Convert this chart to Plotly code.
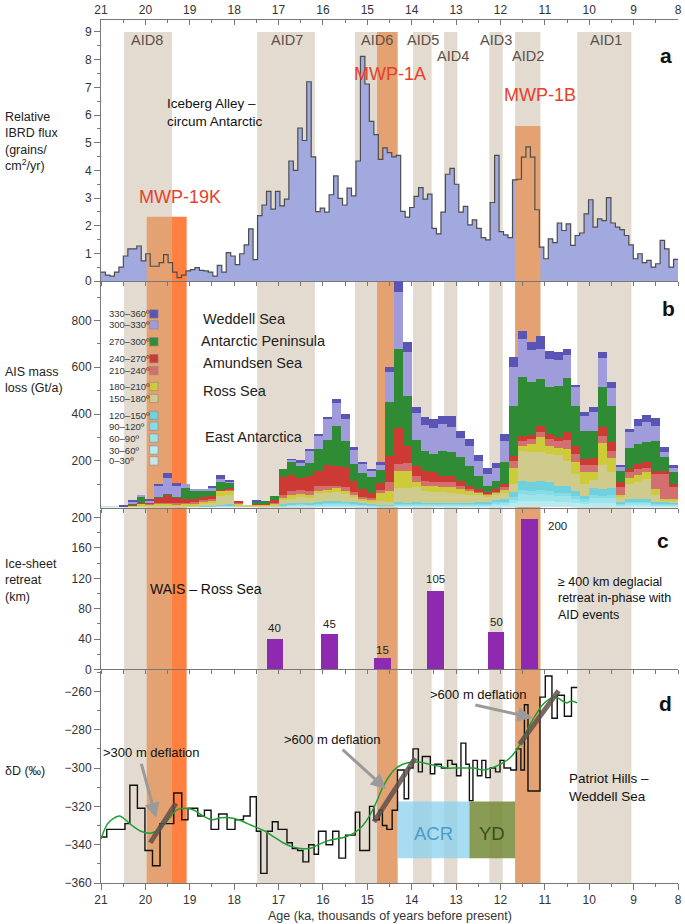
import numpy as np
import plotly.graph_objects as go

# ------------------------------------------------------------------ data
# (a) relative IBRD flux, 0.1-ka bins from 21 ka to 8 ka
ibrd_flux = [0.33, 0.22, 0.18, 0.33, 0.51, 0.91, 1.17, 1.17, 1.27, 0.73,
             0.99, 0.54, 0.54, 0.67, 0.96, 0.67, 0.33, 0.13, 0.22, 0.37,
             0.42, 0.49, 0.39, 0.37, 0.33, 0.18, 0.57, 0.33, 1.03, 0.91,
             0.60, 0.99, 1.31, 1.89, 0.78, 2.37, 2.75, 3.24, 2.60, 3.24,
             2.72, 2.96, 4.34, 4.00, 5.53, 5.08, 7.20, 4.49, 2.51, 2.64,
             2.49, 3.12, 3.80, 2.99, 2.75, 3.36, 3.08, 4.34, 8.12, 7.12,
             5.77, 5.29, 4.40, 4.81, 4.64, 4.49, 4.54, 2.52, 2.31, 2.66,
             3.06, 3.38, 2.96, 3.14, 1.91, 1.71, 2.49, 3.86, 4.07, 3.50,
             2.49, 2.70, 2.03, 2.21, 1.91, 1.57, 1.49, 2.84, 4.54, 1.79,
             1.67, 1.57, 3.66, 3.68, 4.48, 4.85, 4.48, 2.58, 1.23, 0.81,
             1.53, 1.39, 2.10, 1.83, 2.07, 1.29, 1.65, 1.74, 2.43, 2.94,
             1.95, 2.25, 2.19, 3.02, 2.10, 1.95, 1.86, 1.65, 1.31, 0.81,
             0.99, 0.67, 0.75, 0.51, 0.63, 1.47, 1.17, 0.51, 0.79]

# (b) AIS mass loss (Gt/a), 0.2-ka bins centred 20.9 ... 8.1 ka
mass_bin_age = [round(v, 1) for v in np.arange(20.9, 8.0, -0.2)]
mass_000_030 = [4, 5, 2, 2, 2, 2, 2, 2, 2, 2, 2, 2, 2, 3, 3, 2, 2, 2, 2, 2,
                3, 4, 4, 4, 5, 5, 6, 5, 5, 4, 4, 3, 3, 5, 5, 5, 5, 5, 5, 5,
                5, 5, 5, 5, 6, 6, 8, 12, 12, 12, 12, 10, 10, 8, 6, 8, 8, 8, 5, 6,
                6, 6, 5, 5, 5]
mass_030_060 = [0, 0, 0, 0, 0, 0, 0, 0, 0, 1, 1, 1, 1, 2, 2, 1, 1, 1, 1, 1,
                2, 3, 3, 3, 3, 4, 4, 4, 3, 3, 2, 2, 2, 4, 3, 4, 3, 3, 3, 3,
                3, 3, 4, 4, 5, 5, 10, 17, 16, 17, 16, 14, 14, 11, 8, 12, 12, 12, 4, 5,
                5, 5, 4, 4, 3]
mass_060_090 = [0, 0, 0, 0, 1, 1, 0, 1, 1, 1, 1, 1, 1, 2, 3, 1, 1, 1, 1, 1,
                3, 4, 5, 4, 5, 6, 7, 6, 5, 4, 4, 3, 2, 5, 5, 5, 5, 5, 5, 5,
                5, 5, 5, 5, 7, 8, 15, 28, 26, 28, 27, 23, 23, 17, 12, 20, 19, 20, 5, 8,
                8, 8, 5, 5, 5]
mass_090_120 = [0, 0, 0, 0, 0, 0, 0, 0, 0, 0, 0, 0, 1, 1, 2, 1, 0, 0, 0, 0,
                2, 3, 3, 3, 4, 4, 4, 4, 4, 3, 2, 2, 1, 4, 3, 4, 3, 3, 3, 3,
                3, 3, 4, 4, 5, 6, 10, 17, 16, 17, 17, 14, 14, 11, 8, 12, 12, 12, 4, 6,
                6, 6, 4, 4, 3]
mass_120_150 = [0, 0, 0, 0, 0, 0, 0, 0, 0, 0, 0, 1, 1, 2, 4, 1, 0, 0, 0, 1,
                4, 4, 6, 6, 6, 7, 8, 6, 6, 5, 4, 2, 2, 6, 5, 6, 5, 5, 5, 5,
                5, 5, 6, 6, 9, 11, 21, 40, 37, 40, 38, 32, 32, 24, 16, 29, 27, 29, 6, 11,
                11, 11, 6, 6, 5]
mass_150_180 = [0, 0, 0, 3, 6, 5, 5, 5, 5, 6, 6, 10, 12, 41, 38, 8, 3, 5, 4, 7,
                18, 20, 24, 21, 37, 36, 36, 33, 21, 10, 7, 15, 14, 57, 60, 62, 50, 43, 43, 39,
                36, 32, 29, 23, 22, 25, 36, 129, 129, 122, 119, 132, 105, 72, 50, 37, 104, 69, 19, 64,
                71, 85, 29, 6, 10]
mass_180_210 = [0, 0, 0, 4, 6, 6, 8, 8, 6, 7, 8, 10, 12, 20, 20, 4, 0, 4, 4, 6,
                8, 14, 11, 14, 10, 14, 17, 14, 10, 7, 10, 35, 47, 73, 76, 24, 22, 29, 22, 26,
                21, 18, 10, 8, 10, 17, 67, 21, 35, 64, 35, 29, 52, 50, 50, 35, 94, 60, 10, 24,
                32, 29, 25, 6, 5]
mass_210_240 = [0, 0, 0, 1, 2, 2, 4, 4, 4, 4, 4, 5, 5, 0, 3, 3, 0, 0, 0, 4,
                14, 17, 17, 14, 21, 14, 11, 14, 11, 7, 7, 12, 36, 31, 35, 23, 21, 17, 24, 21,
                15, 7, 5, 5, 4, 8, 33, 22, 22, 21, 29, 32, 39, 36, 32, 29, 31, 33, 33, 26,
                25, 17, 65, 107, 50]
mass_240_270 = [0, 0, 0, 2, 3, 3, 22, 36, 24, 17, 14, 14, 15, 5, 6, 3, 0, 2, 4, 8,
                76, 71, 54, 64, 64, 93, 86, 86, 50, 36, 21, 30, 114, 153, 72, 45, 40, 40, 26, 29,
                21, 15, 10, 8, 10, 14, 21, 21, 17, 29, 21, 14, 32, 35, 25, 28, 36, 35, 21, 14,
                21, 29, 14, 14, 14]
mass_270_300 = [0, 0, 0, 5, 28, 4, 2, 2, 4, 45, 36, 28, 22, 31, 22, 0, 0, 10, 10, 18,
                34, 57, 50, 57, 95, 107, 171, 114, 71, 68, 69, 55, 228, 340, 214, 112, 86, 80, 104, 100,
                101, 85, 58, 25, 36, 93, 211, 249, 225, 199, 200, 221, 231, 171, 118, 115, 171, 157, 50, 89,
                86, 82, 125, 57, 50]
mass_300_330 = [0, 0, 4, 8, 2, 8, 50, 68, 47, 17, 7, 7, 15, 15, 9, 0, 0, 2, 0, 0,
                0, 7, 17, 53, 57, 86, 97, 93, 60, 39, 24, 22, 132, 245, 185, 114, 114, 109, 117, 107,
                81, 86, 64, 50, 54, 93, 170, 164, 140, 129, 121, 111, 100, 79, 68, 82, 124, 75, 19, 68,
                79, 89, 68, 22, 17]
mass_330_360 = [0, 0, 2, 3, 0, 2, 7, 21, 10, 0, 0, 0, 3, 17, 6, 0, 0, 2, 0, 0,
                0, 3, 8, 7, 7, 11, 17, 21, 11, 7, 10, 12, 21, 43, 43, 27, 32, 40, 36, 47,
                29, 29, 24, 24, 20, 29, 40, 36, 34, 54, 33, 31, 24, 10, 14, 21, 28, 25, 6, 15,
                26, 29, 32, 21, 15]
sector_labels = ["0–30º", "30–60º", "60–90º", "90–120º", "120–150º", "150–180º",
                 "180–210º", "210–240º", "240–270º", "270–300º", "300–330º", "330–360º"]

# (c) ice-sheet retreat (km)
retreat_age = [17.08, 15.86, 14.66, 13.46, 12.10, 11.35]
retreat_km = [41, 47, 15, 104, 50, 199]
retreat_label = ["40", "45", "15", "105", "50", "200"]

# (d) Patriot Hills deltaD (permil): step record and smoothed curve
dD_age = [21.00, 20.87, 20.46, 20.35, 20.18, 20.01, 19.84, 19.67, 19.36, 19.18,
          19.04, 18.82, 18.67, 18.52, 18.35, 18.16, 17.98, 17.79, 17.64, 17.50,
          17.40, 17.26, 17.14, 17.01, 16.81, 16.69, 16.57, 16.45, 16.32, 16.20,
          16.10, 15.93, 15.78, 15.64, 15.49, 15.27, 15.17, 14.95, 14.85, 14.73,
          14.66, 14.56, 14.44, 14.32, 14.17, 14.07, 13.97, 13.85, 13.76, 13.58,
          13.48, 13.33, 13.19, 13.09, 12.99, 12.89, 12.78, 12.70, 12.62, 12.52,
          12.42, 12.33, 12.23, 12.11, 12.01, 11.92, 11.77, 11.64, 11.54, 11.46,
          11.38, 11.11, 10.99, 10.84, 10.72, 10.56, 10.40]
dD_end_age = 10.27
dD_value = [-336, -332, -329, -309, -321, -343, -351, -329, -313, -327,
            -321, -325, -322, -332, -324, -332, -327, -325, -315, -333,
            -355, -333, -328, -332, -339, -342, -343, -349, -340, -345,
            -333, -340, -333, -347, -335, -323, -343, -320, -327, -322,
            -330, -332, -322, -301, -316, -300, -290, -302, -294, -303,
            -298, -300, -296, -298, -304, -287, -298, -317, -296, -304,
            -296, -305, -300, -302, -296, -300, -301, -290, -301, -267,
            -312, -263, -252, -274, -262, -273, -258]
dD_smooth_age = [21.0, 20.85, 20.7, 20.58, 20.45, 20.3, 20.1, 19.9, 19.75, 19.6,
                 19.45, 19.3, 19.1, 18.9, 18.7, 18.5, 18.3, 18.1, 17.9, 17.7,
                 17.5, 17.3, 17.1, 16.9, 16.7, 16.5, 16.3, 16.1, 15.9, 15.7,
                 15.5, 15.3, 15.1, 14.95, 14.8, 14.65, 14.5, 14.35, 14.2, 14.0,
                 13.8, 13.6, 13.4, 13.2, 13.0, 12.8, 12.6, 12.4, 12.2, 12.0,
                 11.8, 11.65, 11.5, 11.35, 11.2, 11.05, 10.9, 10.75, 10.6, 10.5,
                 10.4, 10.27]
dD_smooth = [-337, -329, -326, -325, -327, -330, -333, -334, -333, -330,
             -326, -322, -321, -322, -325, -327, -326, -326, -327, -329,
             -331, -333, -336, -339, -341, -342, -342, -340, -338, -337,
             -336, -334, -330, -325, -318, -310, -304, -300, -298, -297,
             -297, -298, -299, -300, -300, -300, -300, -301, -300, -298,
             -295, -291, -285, -278, -272, -267, -264, -263, -265, -266,
             -265, -266]

# event bands (ka)
aid_names = ["AID8", "AID7", "AID6", "AID5", "AID4", "AID3", "AID2", "AID1"]
aid_start = [20.48, 17.48, 15.28, 13.97, 13.27, 12.25, 11.67, 10.27]
aid_end = [19.40, 16.18, 14.31, 13.55, 12.97, 11.95, 11.10, 9.05]
aid_label_age = [19.96, 16.82, 14.78, 13.75, 13.07, 12.09, 11.38, 9.63]
mwp_names = ["MWP-19K", "MWP-1A", "MWP-1B"]
mwp_start = [19.97, 14.78, 11.67]
mwp_end = [19.40, 14.32, 11.10]
mwp_top_flux = [2.33, 9.0, 5.6]
mwp19k_peak = [19.40, 19.07]

# ------------------------------------------------------------------ styling / layout helpers
W, H = 685, 924
PT, PB, PL, PR = 14, 883, 101, 682
FONT = "Liberation Sans, Arial, sans-serif"
NARROW = "Liberation Sans Narrow, Liberation Sans, Arial, sans-serif"


def yp(p):
    return (PB - p) / (PB - PT)


def xp(p):
    return (p - PL) / (PR - PL)


BEIGE = "#E3DBD0"
SALMON = "#E4A171"
ORANGE = "#FF8040"
HIST = "#A1A9DF"
AXC = "#777777"
TXT = "#333333"
colors = ["#CBE4E4", "#B3ECF2", "#9DE3EA", "#86DCE6", "#6FD1DD", "#CFCB8C",
          "#CDCB3A", "#D3706F", "#CC3A33", "#2F8C35", "#A09CDC", "#5A55B5"]
layers = [mass_000_030, mass_030_060, mass_060_090, mass_090_120, mass_120_150,
          mass_150_180, mass_180_210, mass_210_240, mass_240_270, mass_270_300,
          mass_300_330, mass_330_360]

fig = go.Figure()

# ---- panel a
edges = list(np.linspace(21, 8, len(ibrd_flux) + 1))
ya = ibrd_flux + [ibrd_flux[-1]]
fig.add_trace(go.Scatter(x=edges, y=ya, mode="lines", line=dict(width=0, shape="hv"),
                         fill="tozeroy", fillcolor=HIST, xaxis="x", yaxis="y",
                         hoverinfo="skip"))
boxes = [(mwp_start[0], mwp_end[0], mwp_top_flux[0], SALMON),
         (mwp19k_peak[0], mwp19k_peak[1], mwp_top_flux[0], ORANGE),
         (mwp_start[2], mwp_end[2], mwp_top_flux[2], SALMON)]
for s, e, t, c in boxes:
    fig.add_trace(go.Scatter(x=[s, s, e, e, s], y=[0, t, t, 0, 0], mode="lines",
                             fill="toself", fillcolor=c, line=dict(width=0),
                             xaxis="x", yaxis="y", hoverinfo="skip"))
fig.add_trace(go.Scatter(x=edges, y=ya, mode="lines",
                         line=dict(width=1.2, shape="hv", color="#4D4D4D"),
                         xaxis="x", yaxis="y", hoverinfo="skip"))
fig.add_trace(go.Scatter(x=[21], y=[0], mode="markers", marker=dict(opacity=0),
                         xaxis="x5", yaxis="y", hoverinfo="skip"))

# ---- panel b
for vals, col, lab in zip(layers, colors, sector_labels):
    fig.add_trace(go.Bar(x=mass_bin_age, y=vals, width=0.2, marker=dict(color=col, line=dict(width=0)),
                         name=lab, xaxis="x2", yaxis="y2"))

# ---- panel c
fig.add_trace(go.Bar(x=retreat_age, y=retreat_km, width=0.38,
                     marker=dict(color="#8E2AB0", line=dict(width=0)),
                     xaxis="x3", yaxis="y3"))

# ---- panel d
fig.add_trace(go.Scatter(x=dD_age + [dD_end_age], y=dD_value + [dD_value[-1]], mode="lines",
                         line=dict(color="#111111", width=1.4, shape="hv"),
                         xaxis="x4", yaxis="y4"))
fig.add_trace(go.Scatter(x=dD_smooth_age, y=dD_smooth, mode="lines",
                         line=dict(color="#1FA035", width=1.5, shape="spline", smoothing=1.0),
                         xaxis="x4", yaxis="y4"))

# ------------------------------------------------------------------ shapes
shapes = []
for s, e in zip(aid_start, aid_end):
    shapes.append(dict(type="rect", xref="x", yref="paper", x0=s, x1=e, y0=0, y1=yp(26),
                       fillcolor=BEIGE, line=dict(width=0), layer="below"))
shapes.append(dict(type="rect", xref="x", yref="paper", x0=mwp_start[1], x1=mwp_end[1],
                   y0=0, y1=yp(26), fillcolor=SALMON, line=dict(width=0), layer="below"))
for s, e, c in [(mwp_start[0], mwp_end[0], SALMON), (mwp19k_peak[0], mwp19k_peak[1], ORANGE),
                (mwp_start[2], mwp_end[2], SALMON)]:
    shapes.append(dict(type="rect", xref="x", yref="paper", x0=s, x1=e, y0=0, y1=yp(277),
                       fillcolor=c, line=dict(width=0), layer="below"))
# ACR / YD boxes
shapes.append(dict(type="rect", xref="x4", yref="y4", x0=14.31, x1=12.70, y0=-347.1, y1=-317.4,
                   fillcolor="rgba(139,208,238,0.75)", line=dict(width=0), layer="below"))
shapes.append(dict(type="rect", xref="x4", yref="y4", x0=12.70, x1=11.67, y0=-347.1, y1=-317.4,
                   fillcolor="rgba(118,138,55,0.85)", line=dict(width=0), layer="below"))
# deflation trend lines
for (x0, y0, x1, y1) in [(19.89, -339, 19.31, -318.3), (14.85, -328.1, 13.92, -294.8),
                         (11.57, -287.6, 10.69, -259.7)]:
    shapes.append(dict(type="line", xref="x4", yref="y4", x0=x0, y0=y0, x1=x1, y1=y1,
                       line=dict(color="rgba(95,80,75,0.85)", width=5), layer="above"))
# legend squares for panel b
leg_y = [458, 447, 435, 423, 412, 395, 383, 367, 355, 338, 321, 310]
for col, yy in zip(colors, leg_y):
    shapes.append(dict(type="rect", xref="paper", yref="paper", x0=xp(150), x1=xp(158.5),
                       y0=yp(yy + 4.2), y1=yp(yy - 4.2), fillcolor=col,
                       line=dict(color="#888888", width=0.6), layer="above"))

# ------------------------------------------------------------------ annotations
ann = []


def txt(x, y, t, size=12, color=TXT, xref="paper", yref="paper", xanchor="center",
        yanchor="middle", align="center", family=FONT, bold=False):
    if bold:
        t = "<b>" + t + "</b>"
    ann.append(dict(x=x, y=y, xref=xref, yref=yref, text=t, showarrow=False,
                    xanchor=xanchor, yanchor=yanchor, align=align,
                    font=dict(size=size, color=color, family=family)))


# AID labels
aid_label_py = [34.5, 34.5, 34.5, 34.5, 50, 34.5, 50, 34.5]
for name, xa_, yy in zip(aid_names, aid_label_age, aid_label_py):
    txt(xa_, yp(yy), name, size=14.5, color="#5C5048", xref="x")
# MWP labels
for name, xa_, yy in zip(mwp_names, [19.23, 14.50, 11.10], [192, 68.5, 90]):
    txt(xa_, yp(yy), name, size=18, color="#E5412C", xref="x")
txt(19.55, yp(107), "Iceberg Alley –<br>circum Antarctic", size=13.5, color="#111111",
    xref="x", xanchor="left", align="left")
# panel letters
for l, px_, py_ in [("a", 670, 50), ("b", 672, 305), ("c", 667, 538), ("d", 669, 702)]:
    txt(xp(px_), yp(py_), l, size=21, color="#111111", bold=True)
# y titles
txt(xp(2), yp(136), "Relative<br>IBRD flux<br>(grains/<br>cm<sup>2</sup>/yr)", size=12.5,
    xanchor="left", align="left", color="#222222")
txt(xp(2), yp(377), "AIS mass<br>loss (Gt/a)", size=12.5, xanchor="left", align="left", color="#222222")
txt(xp(2), yp(578), "Ice-sheet<br>retreat<br>(km)", size=12.5, xanchor="left", align="left", color="#222222")
txt(xp(2), yp(770), "δD (‰)", size=12.5, xanchor="left", align="left", color="#222222")
# panel b region names
for t, px_, py_ in [("Weddell Sea", 202, 315), ("Antarctic Peninsula", 200, 337),
                    ("Amundsen Sea", 202, 359), ("Ross Sea", 202, 388),
                    ("East Antarctica", 204, 434)]:
    txt(xp(px_), yp(py_), t, size=14.5, color="#222222", xanchor="left")
# panel b legend labels
for lab, yy in zip(sector_labels, leg_y):
    txt(xp(107), yp(yy), lab, size=9.5, color="#333333", xanchor="left")
# panel c
for xa_, lab, yv in zip(retreat_age, retreat_label, [54, 59.5, 25, 118.5, 63, None]):
    if yv is None:
        txt(10.72, 189, lab, size=11.5, color="#222222", xref="x3", yref="y3")
    else:
        txt(xa_, yv, lab, size=11.5, color="#222222", xref="x3", yref="y3")
txt(19.94, 106.5, "WAIS – Ross Sea", size=14, color="#111111", xref="x3", yref="y3", xanchor="left")
txt(10.76, 93.5, "≥ 400 km deglacial<br>retreat in-phase with<br>AID events", size=12.5,
    color="#111111", xref="x3", yref="y3", xanchor="left", align="left")
# panel d
txt(21.0, -292, ">300 m deflation", size=13, color="#111111", xref="x4", yref="y4",
    xanchor="left", family=NARROW)
txt(16.93, -285, ">600 m deflation", size=13, color="#111111", xref="x4", yref="y4",
    xanchor="left", family=NARROW)
txt(13.63, -261.4, ">600 m deflation", size=13, color="#111111", xref="x4", yref="y4",
    xanchor="left", family=NARROW)
txt(13.50, -334, "ACR", size=18.5, color="#4A9CC9", xref="x4", yref="y4")
txt(12.18, -334, "YD", size=18.5, color="#35521F", xref="x4", yref="y4")
txt(10.50, -310.2, "Patriot Hills –<br>Weddell Sea", size=13.5, color="#111111",
    xref="x4", yref="y4", xanchor="left", align="left")
for (hx, hy, tx, ty) in [(19.76, -326, 20.10, -297), (14.58, -310.9, 15.59, -289.7),
                         (11.28, -273.8, 12.60, -266.9)]:
    ann.append(dict(x=hx, y=hy, ax=tx, ay=ty, xref="x4", yref="y4", axref="x4", ayref="y4",
                    text="", showarrow=True, arrowhead=2, arrowsize=1, arrowwidth=3,
                    arrowcolor="#9A9A9A"))
txt(0.5, yp(916), "Age (ka, thousands of years before present)", size=12.5, color="#333333")

# ------------------------------------------------------------------ axes
def xax(anchor, ticklen=4, labels=False, dtick=0.5, minor=None, side="bottom", ticks="outside"):
    d = dict(domain=[0, 1], range=[21, 8], anchor=anchor, showline=True, linecolor=AXC,
             linewidth=1, ticks=ticks, ticklen=ticklen, tickcolor=AXC, tick0=8, dtick=dtick,
             showticklabels=labels, showgrid=False, zeroline=False, side=side,
             ticklabeloverflow="allow",
             tickfont=dict(size=12, color=TXT, family=FONT))
    if minor:
        d["minor"] = minor
    return d


def yax(domain, rng, tickvals, minorvals, anchor):
    return dict(domain=domain, range=rng, anchor=anchor, showline=True, linecolor=AXC,
                linewidth=1, ticks="outside", ticklen=6, tickcolor=AXC, tickmode="array",
                tickvals=tickvals, showgrid=False, zeroline=False,
                tickfont=dict(size=12, color=TXT, family=FONT),
                minor=dict(tickmode="array", tickvals=minorvals, ticks="outside",
                           ticklen=3.5, tickcolor=AXC, showgrid=False))


layout = dict(
    width=W, height=H, margin=dict(l=PL, r=W - PR, t=PT, b=H - PB),
    paper_bgcolor="white", plot_bgcolor="rgba(0,0,0,0)",
    showlegend=False, barmode="stack", bargap=0,
    font=dict(family=FONT, color=TXT),
    shapes=shapes, annotations=ann,
    xaxis=xax("y", ticklen=4),
    xaxis2=xax("y2", ticklen=4),
    xaxis3=xax("y3", ticklen=4),
    xaxis4=xax("y4", ticklen=6, labels=True, dtick=1,
               minor=dict(dtick=0.5, ticks="outside", ticklen=3, tickcolor=AXC, showgrid=False)),
    xaxis5=dict(xax("y", ticklen=5, labels=True, dtick=1, side="top", ticks="inside",
                    minor=dict(dtick=0.5, ticks="inside", ticklen=3, tickcolor=AXC, showgrid=False)),
                overlaying="x"),
    yaxis=yax([yp(277), 1.0], [0, 9.43], list(range(0, 10)), [0.5 + i for i in range(9)], "x"),
    yaxis2=yax([yp(505), yp(277)], [0, 968], [200, 400, 600, 800], [100, 300, 500, 700, 900], "x2"),
    yaxis3=yax([yp(668), yp(507)], [0, 210.5], [0, 40, 80, 120, 160, 200],
               [20, 60, 100, 140, 180], "x3"),
    yaxis4=yax([0, yp(670)], [-360, -249.6], [-360, -340, -320, -300, -280, -260],
               [-350, -330, -310, -290, -270, -250], "x4"),
)
fig.update_layout(**layout)
fig.write_html("out.html", config={"displayModeBar": False},
               post_script="document.body.style.margin='0';document.body.style.overflow='hidden';")
